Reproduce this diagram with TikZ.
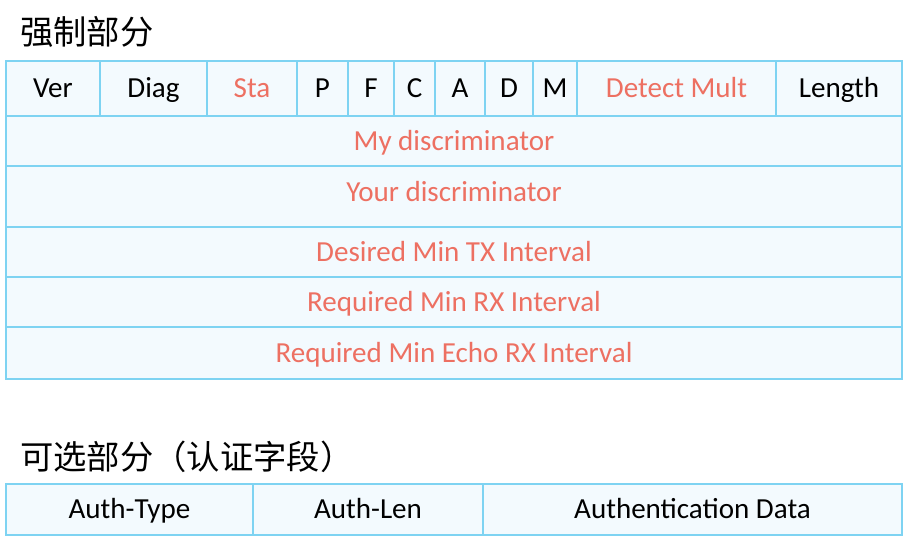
\documentclass[tikz,border=0pt]{standalone}
\usepackage{fontspec}
\setmainfont{Carlito}
\newfontfamily\cjk{Noto Sans CJK SC}
\definecolor{bordercol}{RGB}{126,211,242}
\definecolor{fillcol}{RGB}{243,250,254}
\definecolor{redtxt}{RGB}{237,112,98}
\newcommand\cellnode[8][]{\node[cellbox, text=#8, minimum width={(#5-#3)*0.75pt}, minimum height={(#6-#4)*0.75pt}, #1] (#2) at ({(#3+#5)/2},{(#4+#6)/2}) {#7};}
\begin{document}
\begin{tikzpicture}[x=0.75pt, y=-0.75pt,
  cellbox/.style={draw=bordercol, fill=fillcol, line width=1.6pt, inner sep=0pt,
    text height=14pt, text depth=0pt, font=\fontsize{21.8pt}{26pt}\selectfont},
  title/.style={anchor=west, inner sep=0pt, font=\cjk\fontsize{25pt}{29pt}\selectfont}]
\useasboundingbox (0,0) rectangle (905,545);
\node[title] (t1) at (20,32) {强制部分};
\cellnode{ver}{6}{61}{100}{116}{Ver}{black}
\cellnode{diag}{100}{61}{207}{116}{Diag}{black}
\cellnode{sta}{207}{61}{297}{116}{Sta}{redtxt}
\cellnode{p}{297}{61}{348}{116}{P}{black}
\cellnode{f}{348}{61}{394}{116}{F}{black}
\cellnode{c}{394}{61}{435}{116}{C}{black}
\cellnode{a}{435}{61}{485}{116}{A}{black}
\cellnode{d}{485}{61}{533}{116}{D}{black}
\cellnode{m}{533}{61}{577}{116}{M}{black}
\cellnode{dm}{577}{61}{776}{116}{Detect Mult}{redtxt}
\cellnode{len}{776}{61}{902}{116}{Length}{black}
\cellnode{mydisc}{6}{116}{902}{166}{My discriminator}{redtxt}
\cellnode[text depth=6.75pt]{yourdisc}{6}{166}{902}{227}{Your discriminator}{redtxt}
\cellnode{dmtx}{6}{227}{902}{277}{Desired Min TX Interval}{redtxt}
\cellnode{rmrx}{6}{277}{902}{327}{Required Min RX Interval}{redtxt}
\cellnode{rmerx}{6}{327}{902}{379}{Required Min Echo RX Interval}{redtxt}
\node[title] (t2) at (20,457) {可选部分（认证字段）};
\cellnode{atype}{6}{484}{253}{535}{Auth-Type}{black}
\cellnode{alen}{253}{484}{483}{535}{Auth-Len}{black}
\cellnode{adata}{483}{484}{902}{535}{Authentication Data}{black}
\end{tikzpicture}
\end{document}
